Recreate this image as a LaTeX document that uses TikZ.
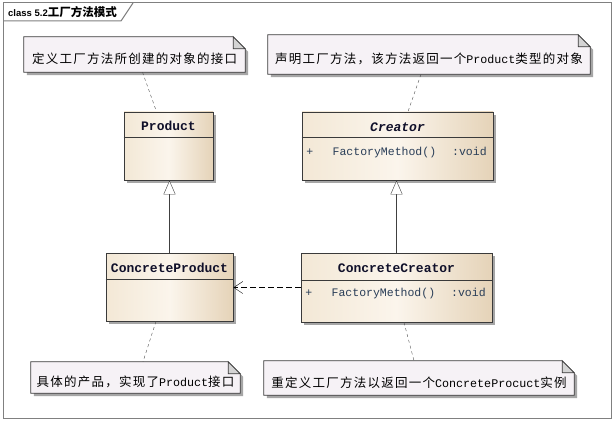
\documentclass[tikz,border=0pt]{standalone}
\usepackage{fontspec}
\setmainfont{Liberation Serif}
\setsansfont{Liberation Sans}
\setmonofont{Liberation Mono}
\newfontfamily\cjk[LetterSpace=10]{Noto Sans CJK SC}
\newfontfamily\cjktitle{Noto Sans CJK SC}
\newcommand\notecode[1]{{\fontsize{11.7}{14}\selectfont\ttfamily #1}}
\usetikzlibrary{arrows.meta,shadows,backgrounds}
\definecolor{clsleft}{HTML}{F3E8D6}
\definecolor{clsmid}{HTML}{FBF5EC}
\definecolor{clsright}{HTML}{E5D3B8}
\definecolor{boxline}{HTML}{3A3A3A}
\definecolor{shadowgray}{HTML}{A6A6A6}
\definecolor{notefill}{HTML}{F6F2F6}
\definecolor{foldfill}{HTML}{D4D4D4}
\definecolor{framegray}{HTML}{808080}
\definecolor{opcol}{HTML}{2A3E58}
\definecolor{namecol}{HTML}{10102A}
\begin{document}
\begin{tikzpicture}[x=1pt,y=-1pt,
  classbox/.style={draw=boxline, line width=0.8pt, left color=clsleft, right color=clsright, middle color=clsmid,
    drop shadow={shadow xshift=3pt,shadow yshift=-3pt,fill=shadowgray,opacity=1}, inner sep=0pt},
  classname/.style={font=\fontsize{13}{15}\selectfont\ttfamily\bfseries, text=namecol},
  operation/.style={font=\fontsize{11.5}{14}\selectfont\ttfamily, text=opcol, anchor=west, inner sep=0pt},
  note/.style={inner sep=0pt, text height=20pt, text depth=2pt, font=\fontsize{12.5}{15}\selectfont},
  notelink/.style={draw=black!70, dash pattern=on 3pt off 3pt},
  inherit/.style={draw=black!75, -{Triangle[open,width=12pt,length=14pt,fill=white]}},
  depend/.style={draw=black, dash pattern=on 6pt off 3pt, -{Straight Barb[width=12pt,length=9pt]}}
]
\useasboundingbox (0,0) rectangle (615,422);
\begin{scope}[on background layer]
\fill[white] (0,0) rectangle (615,422);
\end{scope}

% frame
\draw[framegray, line width=1pt] (3,3) rectangle (611,418);
\draw[framegray, line width=1pt] (3,21) -- (121,21) -- (133,3);
\node[anchor=west, inner sep=0pt, font=\fontsize{9.5}{11}\selectfont\sffamily\bfseries] (title) at (8,12)
  {class 5.2{\fontsize{11.5}{13}\selectfont\cjktitle\bfseries 工厂方法模式}};

% classes
\node[classbox, minimum width=89pt, minimum height=68pt] (product) at (168.5,146) {};
\node[classbox, minimum width=191pt, minimum height=68pt] (creator) at (397.5,146) {};
\node[classbox, minimum width=127pt, minimum height=68pt] (cproduct) at (169.5,287) {};
\node[classbox, minimum width=191pt, minimum height=69pt] (ccreator) at (396.5,287.5) {};

\draw[boxline, line width=0.8pt] ([yshift=-26pt]product.north west) -- ([yshift=-26pt]product.north east);
\draw[boxline, line width=0.8pt] ([yshift=-26pt]creator.north west) -- ([yshift=-26pt]creator.north east);
\draw[boxline, line width=0.8pt] ([yshift=-27pt]cproduct.north west) -- ([yshift=-27pt]cproduct.north east);
\draw[boxline, line width=0.8pt] ([yshift=-28pt]ccreator.north west) -- ([yshift=-28pt]ccreator.north east);

\node[classname] (productname) at (168.5,126) {Product};
\node[classname, font=\fontsize{13}{15}\selectfont\ttfamily\bfseries\itshape] (creatorname) at (397.5,127) {Creator};
\node[classname] (cproductname) at (169.5,268) {ConcreteProduct};
\node[classname] (ccreatorname) at (396.5,268) {ConcreteCreator};

\node[operation] (creatorop) at ([xshift=4.5pt]creator.west |- 0,153) {+\hspace{19.5pt}FactoryMethod()\hspace{16pt}:void};
\node[operation] (ccreatorop) at ([xshift=4.5pt]ccreator.west |- 0,294) {+\hspace{19.5pt}FactoryMethod()\hspace{16pt}:void};

% notes
\node[note, minimum width=221pt, minimum height=35pt] (n1) at (134.5,54.5) {\cjk 定义工厂方法所创建的对象的接口};
\node[note, minimum width=322pt, minimum height=39pt] (n2) at (429,54.5) {{\cjk 声明工厂方法，该方法返回一个}\notecode{Product}{\cjk 类型的对象}};
\node[note, minimum width=209pt, minimum height=31pt] (n3) at (135.5,377.5) {{\cjk 具体的产品，实现了}\notecode{Product}{\cjk 接口}};
\node[note, minimum width=310pt, minimum height=34pt] (n4) at (419,378) {{\cjk 重定义工厂方法以返回一个}\notecode{ConcreteProcuct}{\cjk 实例}};

\begin{scope}[on background layer]
\foreach \n in {n1,n2,n3,n4}{
  \fill[shadowgray] ([shift={(3pt,-3pt)}]\n.north west) -- ([shift={(-9pt,-3pt)}]\n.north east)
    -- ([shift={(3pt,-15pt)}]\n.north east) -- ([shift={(3pt,-3pt)}]\n.south east) -- ([shift={(3pt,-3pt)}]\n.south west) -- cycle;
  \draw[boxline, line width=0.8pt, fill=notefill] (\n.north west) -- ([xshift=-12pt]\n.north east)
    -- ([yshift=-12pt]\n.north east) -- (\n.south east) -- (\n.south west) -- cycle;
  \draw[boxline, line width=0.8pt, fill=foldfill] ([xshift=-12pt]\n.north east) |- ([yshift=-12pt]\n.north east) -- cycle;
}
\end{scope}

% connectors
\draw[notelink] ([xshift=8pt]n1.south) -- ([xshift=-12pt]product.north);
\draw[notelink] ([xshift=-8pt]n2.south) -- ([xshift=10.5pt]creator.north);
\draw[notelink] ([xshift=-13.5pt]cproduct.south) -- ([xshift=7.5pt]n3.north);
\draw[notelink] ([xshift=7.5pt]ccreator.south) -- ([xshift=-5pt]n4.north);

\draw[inherit] (cproduct.north) -- (cproduct.north |- product.south);
\draw[inherit] (ccreator.north) -- (ccreator.north |- creator.south);
\draw[depend] (ccreator.west) -- (ccreator.west -| cproduct.east);
\end{tikzpicture}
\end{document}
